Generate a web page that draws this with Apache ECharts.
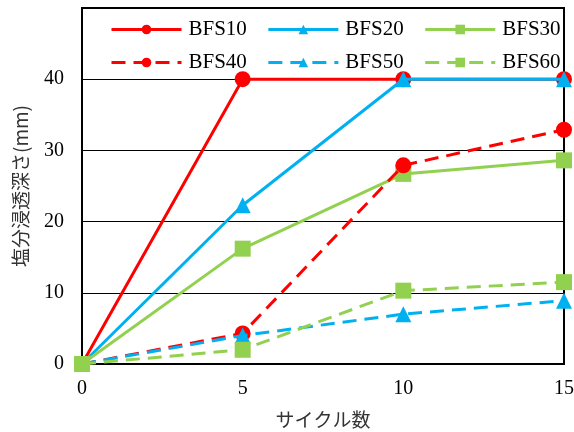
<!DOCTYPE html>
<html>
<head>
<meta charset="utf-8">
<script src="https://cdn.jsdelivr.net/npm/echarts@6/dist/echarts.min.js"></script>
<style>html,body{margin:0;padding:0;background:#fff}#c{width:574px;height:432px}</style>
</head>
<body>
<div id="c"></div>
<script>
const cycles = [0, 5, 10, 15];
const seriesNames = ['BFS10', 'BFS20', 'BFS30', 'BFS40', 'BFS50', 'BFS60'];
const bfs10 = [0, 40, 40, 40];
const bfs20 = [0, 22.3, 40, 40];
const bfs30 = [0, 16.2, 26.7, 28.6];
const bfs40 = [0, 4.3, 27.9, 32.9];
const bfs50 = [0, 4.0, 7.0, 8.9];
const bfs60 = [0, 2.0, 10.3, 11.5];
const xTicks = [0, 5, 10, 15];
const yTicks = [0, 10, 20, 30, 40];

const values = [bfs10, bfs20, bfs30, bfs40, bfs50, bfs60];
const colors = ['#FF0000', '#00B0F0', '#92D050', '#FF0000', '#00B0F0', '#92D050'];
const symbols = ['circle', 'triangle', 'rect', 'circle', 'triangle', 'rect'];
const symSizes = [16, 16, 16, 16, 16, 16];
const dashed = [false, false, false, true, true, true];

const font = '"Liberation Serif", "Times New Roman", serif';
const chart = echarts.init(document.getElementById('c'), null, {renderer: 'canvas'});
const legendCommon = {
  left: 105, itemWidth: 70, itemHeight: 12, itemGap: 20,
  textStyle: {fontFamily: font, fontSize: 21, color: '#000', padding: [0,0,0,2]},
  lineStyle: {width: 3},
  selectedMode: false
};
chart.setOption({
  animation: false,
  backgroundColor: '#fff',
  grid: {left: 82, right: 10, top: 8, bottom: 68, outerBoundsMode: 'none', containLabel: false,
    show: true, borderColor: '#000', borderWidth: 2, backgroundColor: 'transparent'},
  legend: [
    Object.assign({}, legendCommon, {data: seriesNames.slice(0, 3), top: 14}),
    Object.assign({}, legendCommon, {data: seriesNames.slice(3, 6), top: 47})
  ],
  xAxis: {
    type: 'value', min: 0, max: 15, interval: 5,
    name: 'サイクル数', nameLocation: 'middle', nameGap: 46,
    nameTextStyle: {fontFamily: '"Noto Sans CJK JP", sans-serif', fontSize: 19, color: '#333'},
    axisLine: {lineStyle: {color: '#000', width: 2}},
    axisTick: {show: false},
    splitLine: {show: false},
    axisLabel: {fontFamily: font, fontSize: 20, color: '#000', margin: 15,
      formatter: v => xTicks.includes(v) ? String(v) : ''}
  },
  yAxis: {
    type: 'value', min: 0, max: 50, interval: 10,
    name: '塩分浸透深さ(mm)', nameLocation: 'middle', nameGap: 52,
    nameTextStyle: {fontFamily: '"Noto Sans CJK JP", sans-serif', fontSize: 19, color: '#333'},
    axisLine: {show: true, lineStyle: {color: '#000', width: 2}},
    axisTick: {show: false},
    splitLine: {show: true, lineStyle: {color: '#000', width: 1}},
    axisLabel: {fontFamily: font, fontSize: 20, color: '#000', margin: 18,
      formatter: v => yTicks.includes(v) ? String(v) : ''}
  },
  series: seriesNames.map((n, i) => ({
    name: n, type: 'line',
    data: cycles.map((c, j) => [c, values[i][j]]),
    symbol: symbols[i], symbolSize: symSizes[i],
    itemStyle: {color: colors[i]},
    lineStyle: {color: colors[i], width: 3, type: dashed[i] ? [14, 8] : 'solid'},
    z: 2 + i
  }))
});
</script>
</body>
</html>
